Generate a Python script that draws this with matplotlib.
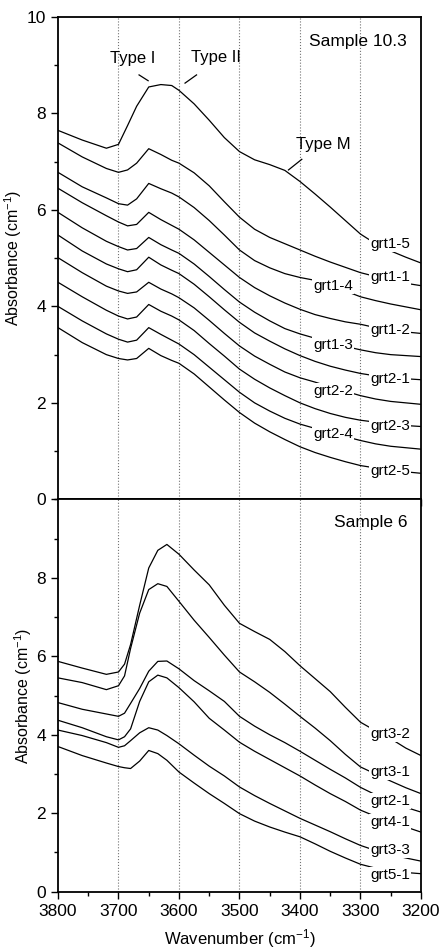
import numpy as np
import matplotlib
matplotlib.use('Agg')
from matplotlib import pyplot as plt
from matplotlib.ticker import MultipleLocator

plt.rcParams['font.family'] = ['Liberation Sans', 'DejaVu Sans']
plt.rcParams['mathtext.default'] = 'regular'

# wavenumber grids (cm-1)
wn_top = [3800, 3760, 3720, 3700, 3685, 3670, 3650, 3630, 3612, 3600, 3575, 3550, 3525,
          3500, 3475, 3450, 3425, 3400, 3375, 3350, 3325, 3300, 3275, 3250, 3225, 3200]
wn_bot = [3800, 3760, 3720, 3700, 3690, 3680, 3665, 3650, 3635, 3620, 3600, 3575, 3550,
          3525, 3500, 3475, 3450, 3425, 3400, 3375, 3350, 3325, 3300, 3275, 3250, 3225, 3200]

# Sample 10.3 (offset spectra, top to bottom)
grt1_5 = [7.65, 7.45, 7.28, 7.36, 7.75, 8.15, 8.55, 8.60, 8.58, 8.48, 8.20, 7.86, 7.50,
          7.21, 7.04, 6.94, 6.82, 6.59, 6.33, 6.06, 5.78, 5.50, 5.30, 5.15, 5.02, 4.90]
grt1_1 = [7.39, 7.10, 6.86, 6.78, 6.83, 6.97, 7.27, 7.15, 7.03, 6.97, 6.77, 6.50, 6.17,
          5.85, 5.60, 5.43, 5.30, 5.17, 5.04, 4.92, 4.81, 4.70, 4.62, 4.55, 4.48, 4.43]
grt1_4 = [6.78, 6.48, 6.25, 6.13, 6.10, 6.23, 6.55, 6.44, 6.35, 6.27, 6.05, 5.78, 5.48,
          5.17, 4.95, 4.80, 4.68, 4.60, 4.54, 4.43, 4.32, 4.20, 4.12, 4.05, 3.99, 3.93]
grt1_2 = [6.45, 6.15, 5.88, 5.75, 5.67, 5.70, 5.95, 5.80, 5.68, 5.60, 5.38, 5.12, 4.86,
          4.60, 4.39, 4.22, 4.07, 3.94, 3.83, 3.75, 3.68, 3.63, 3.56, 3.51, 3.47, 3.44]
grt1_3 = [5.95, 5.63, 5.35, 5.24, 5.17, 5.20, 5.43, 5.28, 5.17, 5.10, 4.88, 4.62, 4.35,
          4.09, 3.88, 3.70, 3.54, 3.43, 3.34, 3.25, 3.17, 3.10, 3.04, 3.00, 2.98, 2.96]
grt2_1 = [5.48, 5.15, 4.88, 4.78, 4.72, 4.76, 5.02, 4.86, 4.75, 4.68, 4.46, 4.20, 3.93,
          3.67, 3.45, 3.28, 3.12, 2.98, 2.86, 2.76, 2.68, 2.61, 2.56, 2.53, 2.50, 2.48]
grt2_2 = [5.01, 4.70, 4.42, 4.32, 4.27, 4.30, 4.50, 4.36, 4.26, 4.18, 3.97, 3.71, 3.44,
          3.18, 2.97, 2.80, 2.64, 2.52, 2.43, 2.33, 2.24, 2.15, 2.08, 2.03, 2.00, 1.97]
grt2_3 = [4.50, 4.20, 3.92, 3.80, 3.74, 3.78, 4.04, 3.90, 3.80, 3.72, 3.50, 3.23, 2.97,
          2.70, 2.49, 2.31, 2.15, 2.00, 1.88, 1.78, 1.70, 1.64, 1.60, 1.56, 1.53, 1.51]
grt2_4 = [4.00, 3.70, 3.43, 3.32, 3.26, 3.30, 3.56, 3.42, 3.30, 3.22, 3.00, 2.74, 2.48,
          2.22, 2.00, 1.83, 1.68, 1.56, 1.47, 1.38, 1.30, 1.22, 1.15, 1.10, 1.07, 1.04]
grt2_5 = [3.56, 3.25, 3.00, 2.92, 2.89, 2.92, 3.13, 2.98, 2.88, 2.82, 2.60, 2.33, 2.06,
          1.80, 1.58, 1.40, 1.24, 1.09, 0.97, 0.87, 0.78, 0.70, 0.65, 0.60, 0.57, 0.54]

# Sample 6
grt3_2 = [5.87, 5.70, 5.54, 5.60, 5.80, 6.30, 7.30, 8.25, 8.70, 8.85, 8.60, 8.20, 7.82,
          7.30, 6.84, 6.63, 6.43, 6.12, 5.76, 5.43, 5.10, 4.70, 4.32, 4.10, 3.90, 3.66, 3.47]
grt3_1 = [5.45, 5.33, 5.15, 5.25, 5.50, 6.20, 7.10, 7.70, 7.85, 7.78, 7.40, 6.92, 6.48,
          6.03, 5.60, 5.35, 5.08, 4.78, 4.47, 4.17, 3.85, 3.50, 3.18, 3.00, 2.82, 2.65, 2.50]
grt2_1b = [4.82, 4.65, 4.53, 4.47, 4.55, 4.80, 5.18, 5.62, 5.87, 5.88, 5.68, 5.38, 5.12,
           4.85, 4.47, 4.22, 4.00, 3.80, 3.58, 3.35, 3.12, 2.90, 2.66, 2.47, 2.30, 2.15, 2.03]
grt4_1 = [4.37, 4.18, 3.95, 3.87, 3.95, 4.15, 4.85, 5.35, 5.52, 5.45, 5.20, 4.84, 4.42,
          4.12, 3.81, 3.58, 3.37, 3.16, 2.95, 2.72, 2.50, 2.30, 2.08, 1.92, 1.78, 1.65, 1.52]
grt3_3 = [4.12, 3.98, 3.80, 3.68, 3.72, 3.85, 4.05, 4.18, 4.12, 3.98, 3.77, 3.48, 3.20,
          2.95, 2.67, 2.45, 2.25, 2.06, 1.87, 1.70, 1.53, 1.35, 1.18, 1.05, 0.95, 0.86, 0.78]
grt5_1 = [3.70, 3.47, 3.28, 3.19, 3.16, 3.14, 3.33, 3.60, 3.52, 3.35, 3.05, 2.77, 2.50,
          2.25, 1.99, 1.80, 1.65, 1.52, 1.40, 1.22, 1.03, 0.86, 0.70, 0.60, 0.53, 0.49, 0.46]

top_series = [grt1_5, grt1_1, grt1_4, grt1_2, grt1_3, grt2_1, grt2_2, grt2_3, grt2_4, grt2_5]
top_names = ['grt1-5', 'grt1-1', 'grt1-4', 'grt1-2', 'grt1-3',
             'grt2-1', 'grt2-2', 'grt2-3', 'grt2-4', 'grt2-5']
top_lab_x = [3284, 3284, 3378, 3284, 3378, 3284, 3378, 3284, 3378, 3284]
top_lab_y = [5.30, 4.60, 4.43, 3.51, 3.21, 2.50, 2.25, 1.51, 1.35, 0.59]

bot_series = [grt3_2, grt3_1, grt2_1b, grt4_1, grt3_3, grt5_1]
bot_names = ['grt3-2', 'grt3-1', 'grt2-1', 'grt4-1', 'grt3-3', 'grt5-1']
bot_lab_y = [4.03, 3.06, 2.31, 1.78, 1.06, 0.43]

grid_wn = [3700, 3600, 3500, 3400, 3300]

fig = plt.figure(figsize=(4.41, 9.52), dpi=100)
ax1 = fig.add_axes([0.1315, 0.4755, 0.8231, 0.5066])
ax2 = fig.add_axes([0.1315, 0.0633, 0.8231, 0.4122], sharex=ax1)

for ax in (ax1, ax2):
    for g in grid_wn:
        ax.axvline(g, color='0.45', ls=':', lw=0.8, zorder=1)
    ax.set_xlim(3800, 3200)
    ax.set_ylim(0, 10)
    ax.xaxis.set_major_locator(MultipleLocator(100))
    ax.xaxis.set_minor_locator(MultipleLocator(50))
    ax.yaxis.set_major_locator(MultipleLocator(2))
    ax.yaxis.set_minor_locator(MultipleLocator(1))
    ax.tick_params(which='major', direction='out', length=5, width=1.0, labelsize=12.5)
    ax.tick_params(which='minor', direction='out', length=3, width=1.0)
    for s in ax.spines.values():
        s.set_linewidth(1.3)
    ax.set_ylabel('Absorbance (cm$^{-1}$)', fontsize=11.5, labelpad=2)

bbox = dict(facecolor='white', edgecolor='none', pad=0.8)
for y, name, lx, ly in zip(top_series, top_names, top_lab_x, top_lab_y):
    ax1.plot(wn_top, y, color='black', lw=0.9)
    ax1.text(lx, ly, name, fontsize=11, ha='left', va='center', bbox=bbox)

for y, name, ly in zip(bot_series, bot_names, bot_lab_y):
    ax2.plot(wn_bot, y, color='black', lw=0.9)
    ax2.text(3284, ly, name, fontsize=11, ha='left', va='center', bbox=bbox)

ax1.tick_params(labelbottom=False)
ax2.set_yticks([0, 2, 4, 6, 8])

# peak annotations
ax1.text(3676, 9.13, 'Type I', fontsize=12, ha='center', va='center')
ax1.plot([3666, 3651], [8.80, 8.68], color='black', lw=0.9)
ax1.text(3538, 9.17, 'Type II', fontsize=12, ha='center', va='center')
ax1.plot([3590, 3571], [8.63, 8.80], color='black', lw=0.9)
ax1.text(3361, 7.35, 'Type M', fontsize=12, ha='center', va='center')
ax1.plot([3419, 3397], [6.83, 7.05], color='black', lw=0.9)

ax1.text(3223, 9.49, 'Sample 10.3', fontsize=12.5, ha='right', va='center')
ax2.text(3223, 9.40, 'Sample 6', fontsize=12.5, ha='right', va='center')

ax2.set_xlabel('Wavenumber (cm$^{-1}$)', fontsize=12, labelpad=6)

fig.savefig('out.png', dpi=100)
